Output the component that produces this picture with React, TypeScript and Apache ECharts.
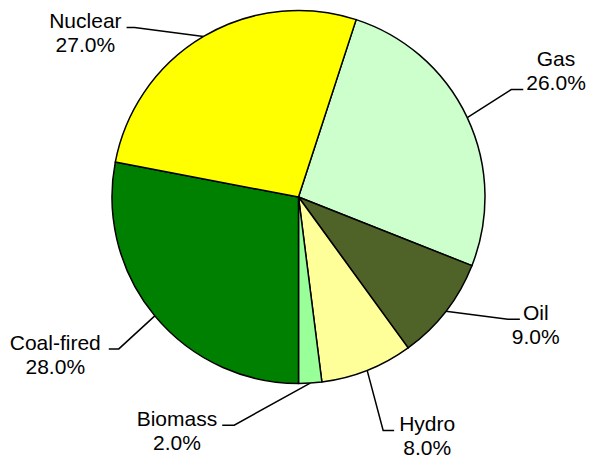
import React, { useEffect, useRef } from "react";
import * as echarts from "echarts";

const categories = ["Gas", "Oil", "Hydro", "Biomass", "Coal-fired", "Nuclear"];
const shares = [26, 9, 8, 2, 28, 27];
const sliceColors = ["#CCFFCC", "#4F6228", "#FFFF99", "#99FF99", "#008000", "#FFFF00"];

// leader-line styling: bend offset from slice edge, horizontal run, gap to label box, label vertical shift
const leaders: Record<string, { bend: number[]; run: number; gap: number; shift: number }> = {
  Gas: { bend: [44, -28], run: 12, gap: 3, shift: -19 },
  Oil: { bend: [62, 8], run: 12, gap: -8, shift: 5 },
  Hydro: { bend: [16, 60], run: 11, gap: 5, shift: 5 },
  Biomass: { bend: [-76, 42], run: -12, gap: 5, shift: 5 },
  "Coal-fired": { bend: [-36, 33], run: -10, gap: 8, shift: 6 },
  Nuclear: { bend: [-69, -9], run: -8, gap: 5, shift: 5 },
};

export default function App() {
  const ref = useRef<HTMLDivElement>(null);
  useEffect(() => {
    if (!ref.current) return;
    const chart = echarts.init(ref.current, undefined, { renderer: "svg" });
    chart.setOption({
      animation: false,
      backgroundColor: "#ffffff",
      series: [
        {
          type: "pie",
          center: [298.5, 197],
          radius: 186.5,
          startAngle: 72,
          clockwise: true,
          avoidLabelOverlap: false,
          data: categories.map((c, i) => ({
            name: c,
            value: shares[i],
            itemStyle: { color: sliceColors[i] },
          })),
          itemStyle: { borderColor: "#000000", borderWidth: 1.5 },
          emphasis: { disabled: true },
          label: {
            show: true,
            position: "outside",
            formatter: (p: any) => `${p.name}\n${Number(p.percent).toFixed(1)}%`,
            fontFamily: "Liberation Sans, Arial, sans-serif",
            fontSize: 21,
            lineHeight: 24,
            color: "#000000",
            align: "center",
          },
          labelLine: {
            show: true,
            length: 20,
            length2: 10,
            lineStyle: { color: "#000000", width: 1.5 },
          },
          labelLayout: (p: any) => {
            const cfg = leaders[categories[p.dataIndex]];
            const pts = p.labelLinePoints;
            if (!cfg || !pts) return {};
            const e = pts[0];
            const b = [e[0] + cfg.bend[0], e[1] + cfg.bend[1]];
            const end = [b[0] + cfg.run, b[1]];
            const dir = Math.sign(cfg.run);
            const w = p.labelRect.width;
            return {
              x: end[0] + dir * (cfg.gap + w / 2),
              y: end[1] + cfg.shift,
              align: "center",
              verticalAlign: "middle",
              labelLinePoints: [e, b, end],
            };
          },
        },
      ],
    });
    return () => chart.dispose();
  }, []);
  return (
    <div
      ref={ref}
      style={{ position: "absolute", left: 0, top: 0, width: 589, height: 459 }}
    />
  );
}
